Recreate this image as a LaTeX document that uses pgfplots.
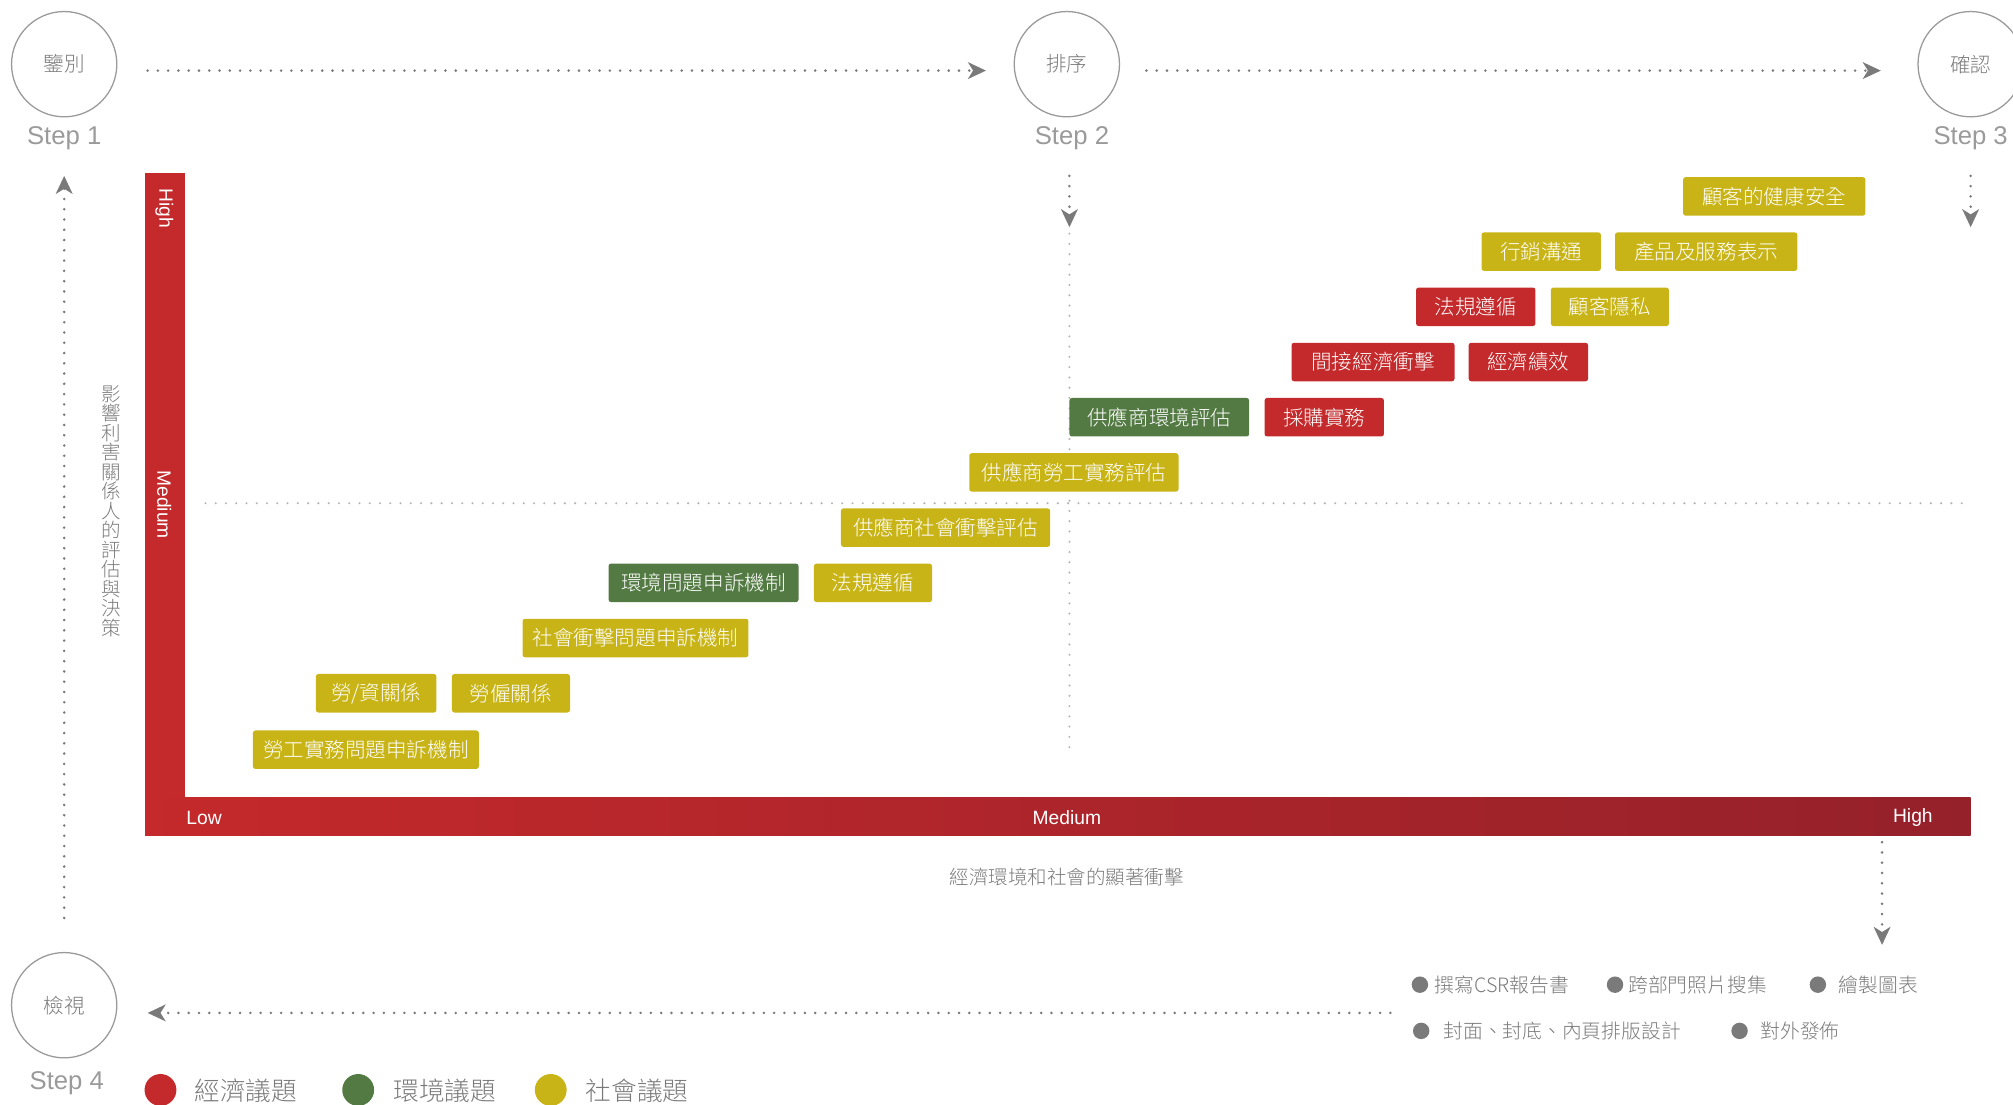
\documentclass[border=0pt]{standalone}
\usepackage{fontspec}
\setmainfont{Noto Sans CJK TC}
\newfontfamily\cjkl{Noto Sans CJK TC Light}
\newfontfamily\lat{Liberation Sans}
\usepackage{pgfplots}
\usepackage{pgfplotstable}
\pgfplotsset{compat=1.18}
\usetikzlibrary{arrows.meta}

\definecolor{ecored}{HTML}{C4292B}
\definecolor{ecodark}{HTML}{95212A}
\definecolor{envgreen}{HTML}{527A42}
\definecolor{socyellow}{HTML}{C8B416}
\definecolor{txtgray}{HTML}{7A7A7A}
\definecolor{lightgray}{HTML}{B5B5B5}
\definecolor{circgray}{HTML}{9A9A9A}

% box centres (x, y in picture units, y downwards) and box widths
\pgfplotstableread{
x      y   w   label
1149.5 239 93  法規遵循
1069.5 282 127 間接經濟衝擊
1190.5 282 93  經濟績效
1031.5 325 93  採購實務
}\ecodata
\pgfplotstableread{
x   y   w   label
903 325 140 供應商環境評估
548 454 148 環境問題申訴機制
}\envdata
\pgfplotstableread{
x      y   w   label
1382   153 142 顧客的健康安全
1200.5 196 93  行銷溝通
1329   196 142 產品及服務表示
1254   239 92  顧客隱私
836.5  368 163 供應商勞工實務評估
736.5  411 163 供應商社會衝擊評估
680    454 92  法規遵循
495    497 176 社會衝擊問題申訴機制
293    540 94  勞/資關係
398    540 92  勞僱關係
285    584 176 勞工實務問題申訴機制
}\socdata

\tikzset{
  mydots/.style={draw=txtgray, line width=1.1pt, line cap=round, dash pattern=on 0pt off 4pt},
  myldots/.style={draw=lightgray, line width=0.9pt, line cap=round, dash pattern=on 0pt off 4pt},
  mytip/.style={-{Stealth[length=7pt,width=6.5pt,inset=2pt]}},
  mystep/.style={circgray, font=\lat\fontsize{10}{12}\selectfont},
  mycirc/.style={draw=circgray, line width=0.5pt},
  myctext/.style={txtgray, font=\cjkl\fontsize{8}{9}\selectfont},
  mytask/.style={txtgray, anchor=west, inner sep=0pt, font=\cjkl\fontsize{7.7}{9}\selectfont},
  mylegend/.style={txtgray, anchor=west, inner sep=0pt, font=\cjkl\fontsize{10}{12}\selectfont},
  mybar/.style={white, font=\lat\fontsize{7.5}{9}\selectfont},
}

\begin{document}
\begin{tikzpicture}
\begin{axis}[
    scale only axis,
    width=784pt, height=430pt,
    xmin=0, xmax=1568, ymin=0, ymax=860,
    y dir=reverse,
    axis lines=none,
    clip=false,
    point meta=explicit symbolic,
    nodes near coords,
    visualization depends on={\thisrow{w}\as\boxw},
    every node near coord/.append style={anchor=center, text=white,
        font=\cjkl\fontsize{8}{9}\selectfont, minimum width=\boxw*0.5pt,
        minimum height=15pt, inner xsep=0pt, inner ysep=0pt, rounded corners=1pt},
]
% steps
\draw[mycirc] (axis cs:50,50) circle[radius=20.5pt];
\draw[mycirc] (axis cs:831,50) circle[radius=20.5pt];
\draw[mycirc] (axis cs:1535,50) circle[radius=20.5pt];
\draw[mycirc] (axis cs:50,783) circle[radius=20.5pt];
\node[myctext] at (axis cs:50,50) {鑒別};
\node[myctext] at (axis cs:831,50) {排序};
\node[myctext] at (axis cs:1535,50) {確認};
\node[myctext] at (axis cs:50,783) {檢視};
\node[mystep] at (axis cs:50,108) {Step 1};
\node[mystep] at (axis cs:835,108) {Step 2};
\node[mystep] at (axis cs:1535,108) {Step 3};
\node[mystep] at (axis cs:52,844) {Step 4};
% flow arrows
\draw[mydots,mytip] (axis cs:115,55) -- (axis cs:768,55);
\draw[mydots,mytip] (axis cs:893,55) -- (axis cs:1465,55);
\draw[mydots,mytip] (axis cs:50,715) -- (axis cs:50,137);
\draw[mydots,mytip] (axis cs:1083,789) -- (axis cs:115,789);
\draw[mydots,mytip] (axis cs:833,137) -- (axis cs:833,177);
\draw[mydots,mytip] (axis cs:1535,137) -- (axis cs:1535,177);
\draw[mydots,mytip] (axis cs:1466,656) -- (axis cs:1466,736);
% quadrant guides
\draw[myldots] (axis cs:160,392) -- (axis cs:1535,392);
\draw[myldots] (axis cs:833,182) -- (axis cs:833,585);
% red axes
\shade[left color=ecored, right color=ecodark] (axis cs:113,621) rectangle (axis cs:1535,651);
\fill[ecored] (axis cs:113,135) rectangle (axis cs:144,622);
\node[mybar, rotate=-90] at (axis cs:128,162) {High};
\node[mybar, rotate=-90] at (axis cs:128,393) {Medium};
\node[mybar] at (axis cs:159,637) {Low};
\node[mybar] at (axis cs:831,637) {Medium};
\node[mybar] at (axis cs:1490,637) {High};
\node[txtgray, font=\cjkl\fontsize{7.6}{9}\selectfont] at (axis cs:831,683) {經濟環境和社會的顯著衝擊};
\node[txtgray, align=center, font=\cjkl\fontsize{7.6}{7.6}\selectfont] at (axis cs:87,398)
  {影\\響\\利\\害\\關\\係\\人\\的\\評\\估\\與\\決\\策};
% tasks
\fill[txtgray] (axis cs:1106,767) circle[radius=3.2pt];
\node[mytask] at (axis cs:1117,767) {撰寫CSR報告書};
\fill[txtgray] (axis cs:1258,767) circle[radius=3.2pt];
\node[mytask] at (axis cs:1268,767) {跨部門照片搜集};
\fill[txtgray] (axis cs:1416,767) circle[radius=3.2pt];
\node[mytask] at (axis cs:1432,767) {繪製圖表};
\fill[txtgray] (axis cs:1107,803) circle[radius=3.2pt];
\node[mytask] at (axis cs:1124,803) {封面、封底、內頁排版設計};
\fill[txtgray] (axis cs:1355,803) circle[radius=3.2pt];
\node[mytask] at (axis cs:1371,803) {對外發佈};
% legend
\fill[ecored] (axis cs:125,849) circle[radius=6.2pt];
\fill[envgreen] (axis cs:279,849) circle[radius=6.2pt];
\fill[socyellow] (axis cs:429,849) circle[radius=6.2pt];
\node[mylegend] at (axis cs:151,850) {經濟議題};
\node[mylegend] at (axis cs:306,850) {環境議題};
\node[mylegend] at (axis cs:456,850) {社會議題};
% issue boxes
\addplot[draw=none, mark=none, nodes near coords style={fill=ecored}]
  table[x=x, y=y, meta=label] {\ecodata};
\addplot[draw=none, mark=none, nodes near coords style={fill=envgreen}]
  table[x=x, y=y, meta=label] {\envdata};
\addplot[draw=none, mark=none, nodes near coords style={fill=socyellow}]
  table[x=x, y=y, meta=label] {\socdata};
\end{axis}
\pgfresetboundingbox
\path[use as bounding box] (current axis.south west) rectangle (current axis.north east);
\end{tikzpicture}
\end{document}
